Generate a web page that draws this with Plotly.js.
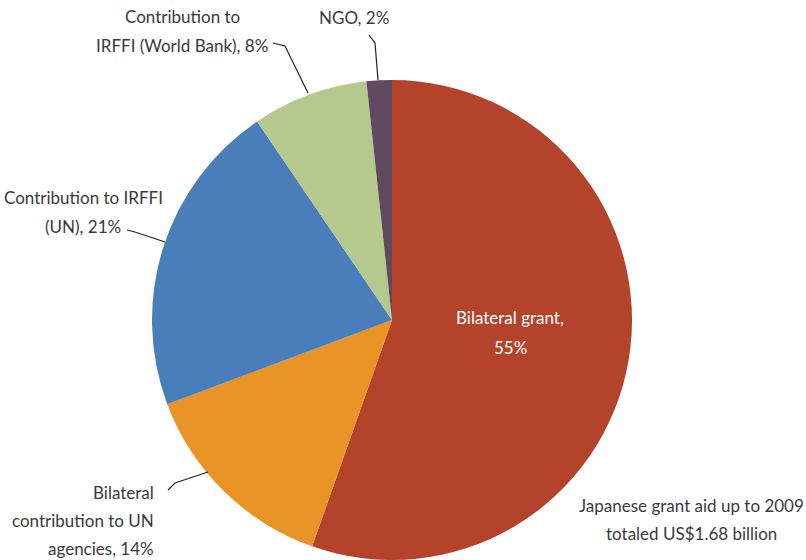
<!DOCTYPE html>
<html>
<head>
<meta charset="utf-8">
<script src="https://cdn.plot.ly/plotly-3.0.1.min.js"></script>
<style>html,body{margin:0;padding:0;background:#fff;}#chart{width:806px;height:560px;}</style>
</head>
<body>
<div id="chart"></div>
<script>
// Data
const categories = ["Bilateral grant", "Bilateral contribution to UN agencies", "Contribution to IRFFI (UN)", "Contribution to IRFFI (World Bank)", "NGO"];
const shares = [55.4, 13.9, 21.2, 7.8, 1.7];
const sliceColors = ["#B3432B", "#E89427", "#4A7EBB", "#B5C98E", "#5F4A60"];
const labelLines = [
  ["Bilateral grant,", "55%"],
  ["Bilateral", "contribution to UN", "agencies, 14%"],
  ["Contribution to IRFFI", "(UN), 21%"],
  ["Contribution to", "IRFFI (World Bank), 8%"],
  ["NGO, 2%"]
];
const noteLines = ["Japanese grant aid up to 2009", "totaled US$1.68 billion"];

const W = 806, H = 560;
const px = x => x / W;
const py = y => 1 - y / H;
const FONT = "Lato, 'Open Sans', sans-serif";
const FS = 17;
const TXT = "#3a3a3a";

// label placement (pixel centers of each line) and alignment
const placements = [
  {x: 510, ys: [317, 347], anchor: "center", color: "#ffffff"},
  {x: 156, ys: [492, 520, 548], anchor: "right", color: TXT},
  {x: 83, ys: [197, 226], anchor: "center", color: TXT},
  {x: 182, ys: [16, 45], anchor: "center", color: TXT},
  {x: 354, ys: [17], anchor: "center", color: TXT}
];
const leaders = [
  null,
  [[168, 490], [175, 483], [208, 472]],
  [[127, 230], [135, 232], [165, 242]],
  [[273, 43], [285, 46], [308, 93]],
  [[369, 35], [375, 43], [378, 80]]
];

const annotations = [];
labelLines.forEach((lines, i) => {
  const p = placements[i];
  lines.forEach((t, j) => {
    annotations.push({
      text: t, xref: "paper", yref: "paper",
      x: px(p.x), y: py(p.ys[j]),
      xanchor: p.anchor, yanchor: "middle", showarrow: false,
      font: {family: FONT, size: FS, color: p.color}
    });
  });
});
noteLines.forEach((t, j) => {
  annotations.push({
    text: t, xref: "paper", yref: "paper",
    x: px(691), y: py([505, 533][j]),
    xanchor: "center", yanchor: "middle", showarrow: false,
    font: {family: FONT, size: FS, color: TXT}
  });
});

const shapes = leaders.filter(l => l).map(pts => ({
  type: "path", xref: "paper", yref: "paper",
  path: pts.map((p, k) => (k ? "L" : "M") + px(p[0]) + "," + py(p[1])).join(" "),
  line: {color: "#222222", width: 1.2}
}));

const cx = 392, cy = 320, r = 240;
const trace = {
  type: "pie",
  labels: categories,
  values: shares,
  sort: false,
  direction: "clockwise",
  rotation: 0,
  textinfo: "none",
  hoverinfo: "label+percent",
  marker: {colors: sliceColors, line: {width: 0}},
  domain: {x: [px(cx - r), px(cx + r)], y: [py(cy + r), py(cy - r)]},
  showlegend: false
};

Plotly.newPlot("chart", [trace], {
  width: W, height: H,
  margin: {l: 0, r: 0, t: 0, b: 0},
  paper_bgcolor: "#ffffff",
  showlegend: false,
  annotations: annotations,
  shapes: shapes
}, {displayModeBar: false, staticPlot: true});
</script>
</body>
</html>
